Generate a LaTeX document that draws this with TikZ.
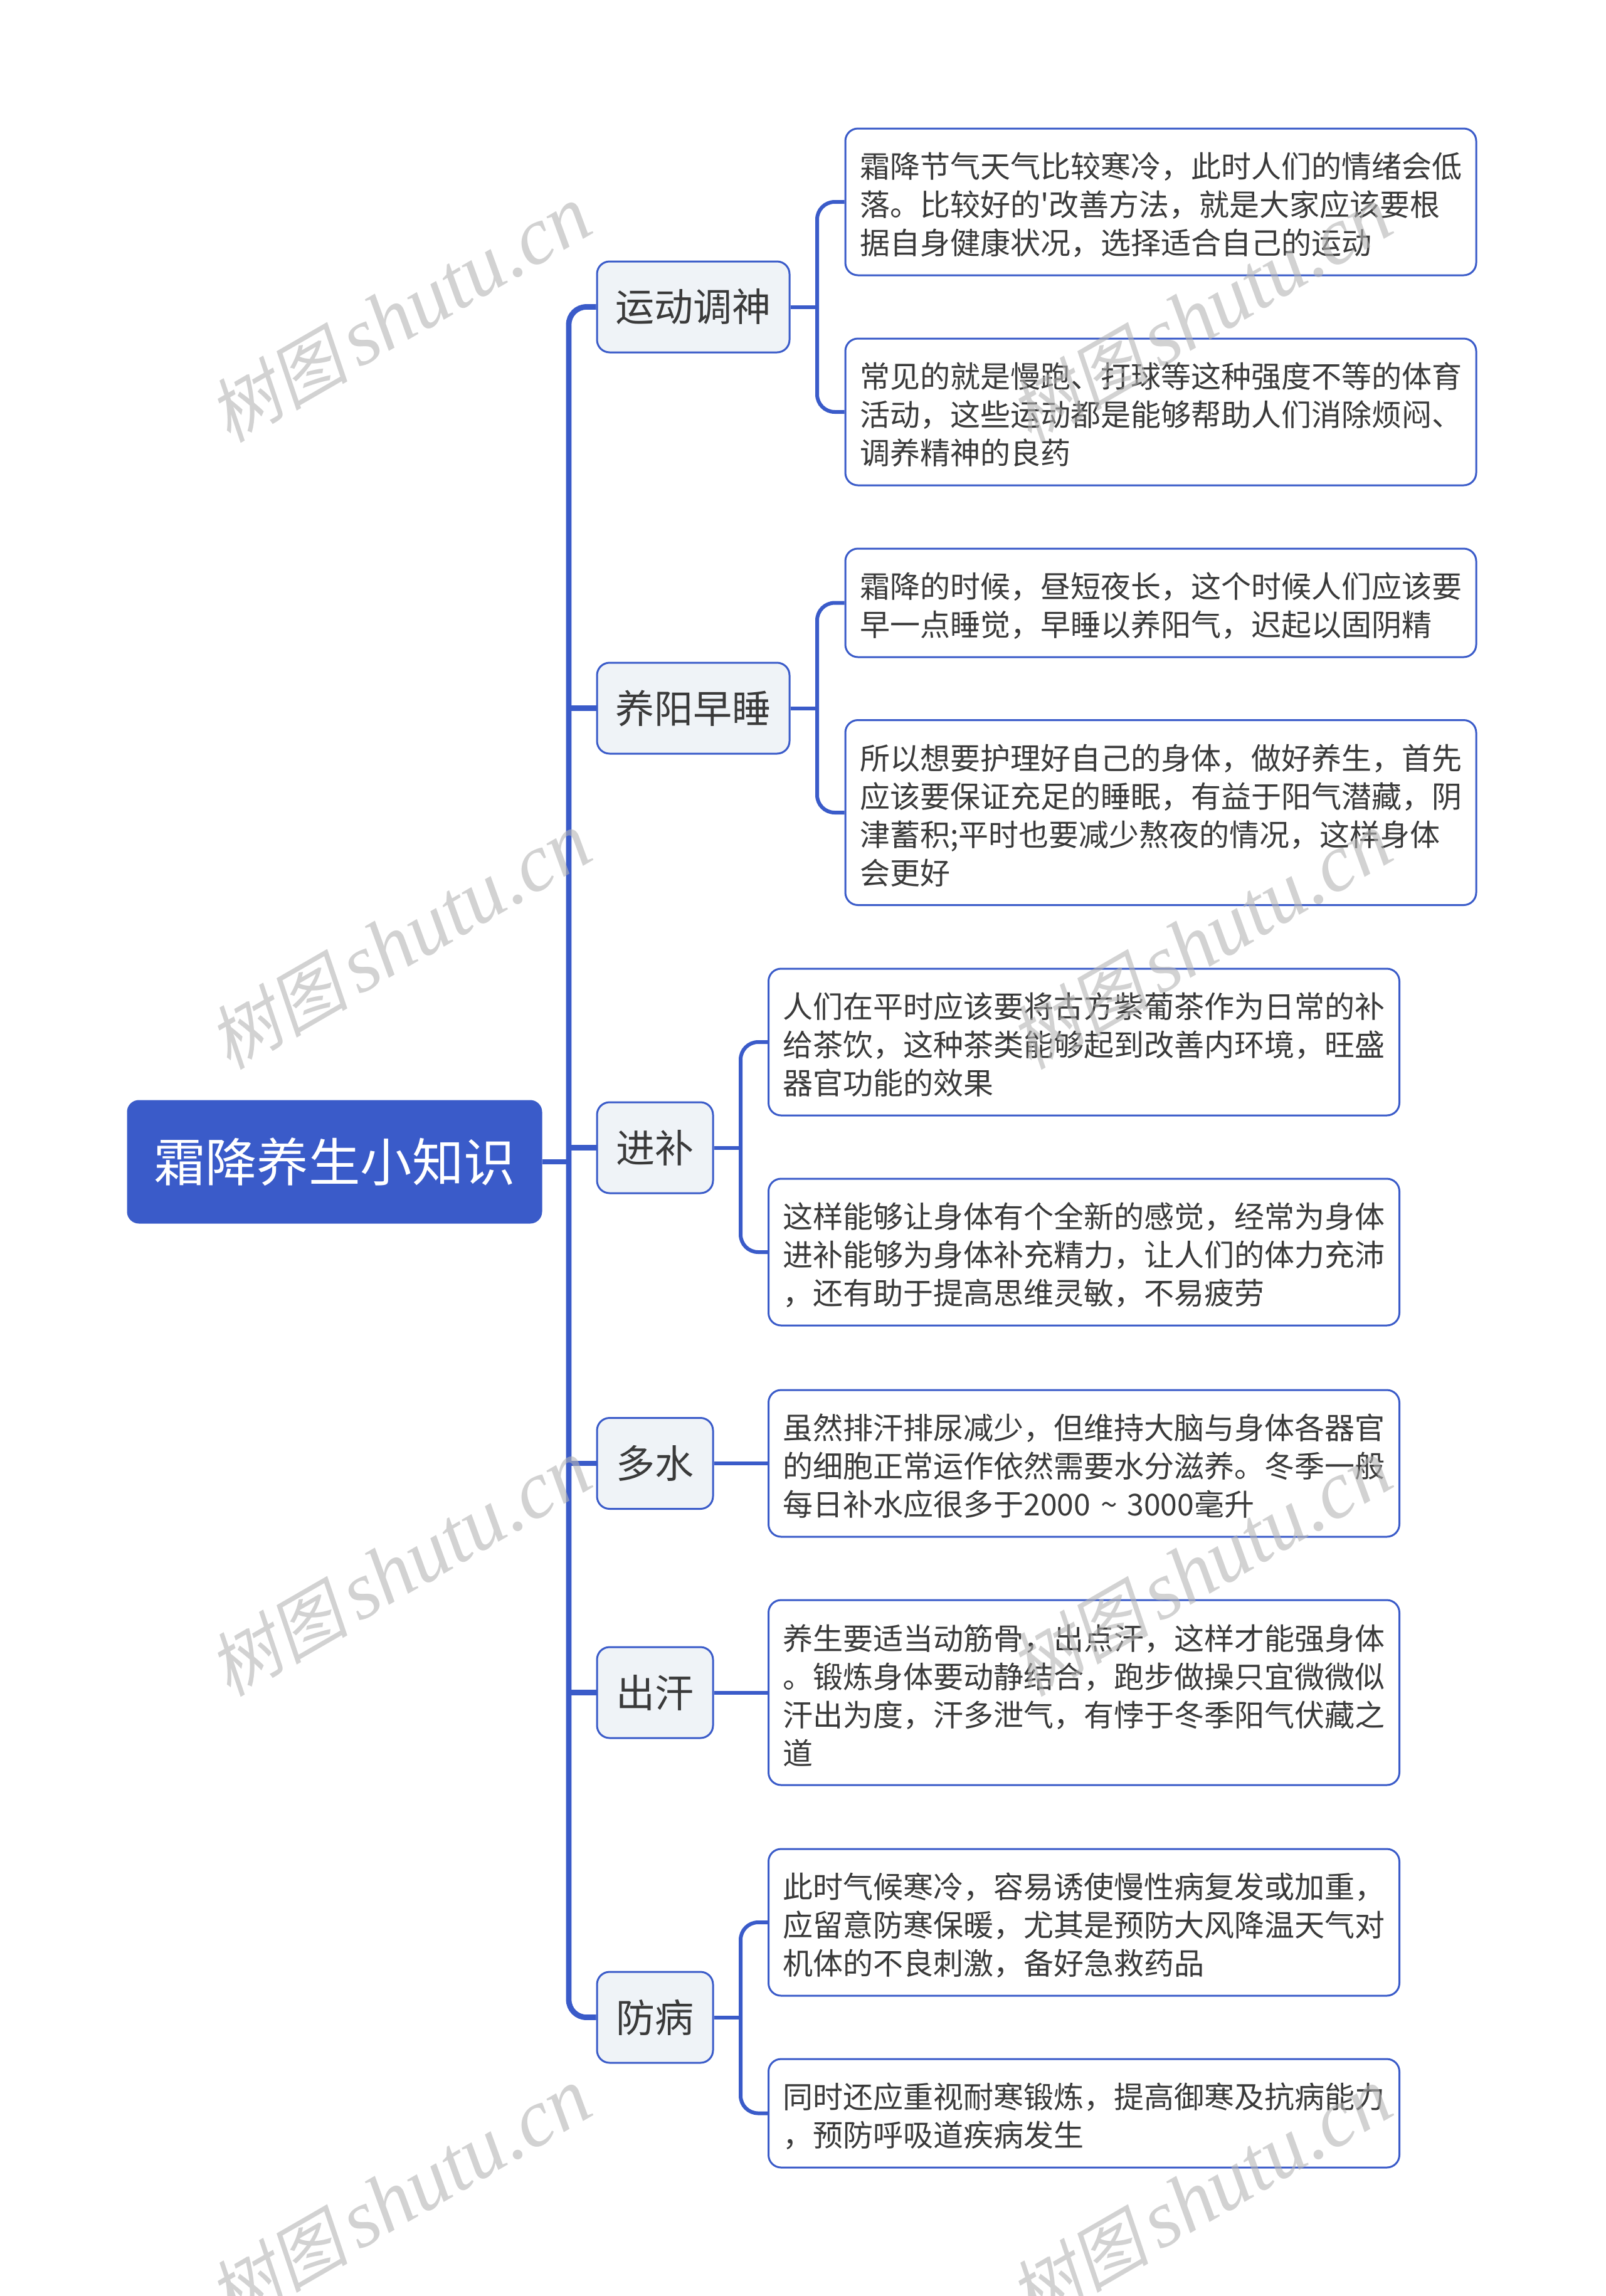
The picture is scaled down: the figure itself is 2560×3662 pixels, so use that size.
\documentclass[tikz,border=0pt]{standalone}
\usepackage{fontspec}
\newfontfamily\cjk{Noto Sans CJK SC}
\newfontfamily\wmcjk[FakeSlant=0.2]{Noto Sans CJK SC}
\newfontfamily\wmlat{Liberation Serif Italic}
\definecolor{mainblue}{HTML}{3A5BC9}
\definecolor{lvlfill}{HTML}{EFF3F7}
\definecolor{txt}{HTML}{3A3A3A}
\definecolor{wm}{HTML}{B4B4B4}
\tikzset{
  x=0.5pt,y=-0.5pt,
  rootbox/.style={draw=mainblue,fill=mainblue,line width=1pt,rounded corners=9pt,minimum width=330pt,minimum height=97.5pt,inner sep=0pt,text=white,font=\cjk\fontsize{41.2}{50}\selectfont},
  lvlbox/.style={draw=mainblue,fill=lvlfill,line width=1.5pt,rounded corners=10pt,minimum height=72.5pt,inner sep=0pt,text=txt,font=\cjk\fontsize{31}{38}\selectfont},
  lvlfour/.style={lvlbox,minimum width=153.5pt},
  lvltwo/.style={lvlbox,minimum width=92.5pt},
  leafbox/.style={draw=mainblue,fill=white,line width=1.5pt,rounded corners=10pt,minimum width=503pt,inner xsep=11.5pt,inner ysep=0pt,text width=480pt,align=left,text=txt,font=\cjk\fontsize{24}{30.5}\selectfont,text height=24.7pt},
  leaftwo/.style={leafbox,minimum height=86.5pt},
  leafthree/.style={leafbox,minimum height=117pt},
  leaffour/.style={leafbox,minimum height=147.5pt},
  trunkline/.style={draw=mainblue,line width=4.4pt,rounded corners=14pt},
  branchline/.style={draw=mainblue,line width=3pt,rounded corners=14pt},
  wmark/.style={text=wm,opacity=0.6,rotate=30,anchor=base west,inner sep=0pt},
}
\newcommand{\wmtext}{{\wmcjk\fontsize{56}{60}\selectfont 树图}\hspace{8pt}{\wmlat\fontsize{65}{60}\selectfont shutu.cn}}
\begin{document}
\begin{tikzpicture}
\useasboundingbox (0,0) rectangle (2560,3662);
\fill[white] (0,0) rectangle (2560,3662);
\begin{scope}
\clip (0,0) rectangle (2560,3662);
% nodes
\node[rootbox] (root) at (533.5,1853) {霜降养生小知识};
\node[lvlfour] (n1) at (1105.5,489.5) {运动调神};
\node[lvlfour] (n2) at (1105.5,1129.5) {养阳早睡};
\node[lvltwo] (n3) at (1044.5,1830.5) {进补};
\node[lvltwo] (n4) at (1044.5,2334) {多水};
\node[lvltwo] (n5) at (1044.5,2699.5) {出汗};
\node[lvltwo] (n6) at (1044.5,3217.5) {防病};
\node[leafthree] (a1) at (1851,322) {霜降节气天气比较寒冷，此时人们的情绪会低\\落。比较好的'改善方法，就是大家应该要根\\据自身健康状况，选择适合自己的运动};
\node[leafthree] (a2) at (1851,657) {常见的就是慢跑、打球等这种强度不等的体育\\活动，这些运动都是能够帮助人们消除烦闷、\\调养精神的良药};
\node[leaftwo] (b1) at (1851,961.5) {霜降的时候，昼短夜长，这个时候人们应该要\\早一点睡觉，早睡以养阳气，迟起以固阴精};
\node[leaffour] (b2) at (1851,1296) {所以想要护理好自己的身体，做好养生，首先\\应该要保证充足的睡眠，有益于阳气潜藏，阴\\津蓄积;平时也要减少熬夜的情况，这样身体\\会更好};
\node[leafthree] (c1) at (1728.5,1662) {人们在平时应该要将古方紫葡茶作为日常的补\\给茶饮，这种茶类能够起到改善内环境，旺盛\\器官功能的效果};
\node[leafthree] (c2) at (1728.5,1997) {这样能够让身体有个全新的感觉，经常为身体\\进补能够为身体补充精力，让人们的体力充沛\\，还有助于提高思维灵敏，不易疲劳};
\node[leafthree] (d1) at (1728.5,2334) {虽然排汗排尿减少，但维持大脑与身体各器官\\的细胞正常运作依然需要水分滋养。冬季一般\\每日补水应很多于2000 \textasciitilde{} 3000毫升};
\node[leaffour] (e1) at (1728.5,2699.5) {养生要适当动筋骨，出点汗，这样才能强身体\\。锻炼身体要动静结合，跑步做操只宜微微似\\汗出为度，汗多泄气，有悖于冬季阳气伏藏之\\道};
\node[leafthree] (f1) at (1728.5,3066) {此时气候寒冷，容易诱使慢性病复发或加重，\\应留意防寒保暖，尤其是预防大风降温天气对\\机体的不良刺激，备好急救药品};
\node[leaftwo] (f2) at (1728.5,3370.5) {同时还应重视耐寒锻炼，提高御寒及抗病能力\\，预防呼吸道疾病发生};
% connector junctions
\coordinate (tr) at (907,1853);
\coordinate (ja) at (1303,489.5);
\coordinate (jb) at (1303,1129.5);
\coordinate (jc) at (1181,1830.5);
\coordinate (jf) at (1181,3217.5);
% trunk
\draw[trunkline] (n1.west) -| (tr) |- (n6.west);
\draw[trunkline] (root.east) -- (tr);
\draw[trunkline] (n2.west) -- (n2.west -| tr);
\draw[trunkline] (n3.west) -- (n3.west -| tr);
\draw[trunkline] (n4.west) -- (n4.west -| tr);
\draw[trunkline] (n5.west) -- (n5.west -| tr);
% branches
\draw[branchline] (a1.west) -| (ja) |- (a2.west);
\draw[branchline] (n1.east) -- (ja);
\draw[branchline] (b1.west) -| (jb) |- (b2.west);
\draw[branchline] (n2.east) -- (jb);
\draw[branchline] (c1.west) -| (jc) |- (c2.west);
\draw[branchline] (n3.east) -- (jc);
\draw[branchline] (n4.east) -- (d1.west);
\draw[branchline] (n5.east) -- (e1.west);
\draw[branchline] (f1.west) -| (jf) |- (f2.west);
\draw[branchline] (n6.east) -- (jf);
% watermarks
\node[wmark] (w1) at (365,708) {\wmtext};
\node[wmark] (w2) at (1642,708) {\wmtext};
\node[wmark] (w3) at (365,1708) {\wmtext};
\node[wmark] (w4) at (1642,1708) {\wmtext};
\node[wmark] (w5) at (365,2708) {\wmtext};
\node[wmark] (w6) at (1642,2708) {\wmtext};
\node[wmark] (w7) at (365,3710) {\wmtext};
\node[wmark] (w8) at (1642,3710) {\wmtext};
\end{scope}
\end{tikzpicture}
\end{document}
